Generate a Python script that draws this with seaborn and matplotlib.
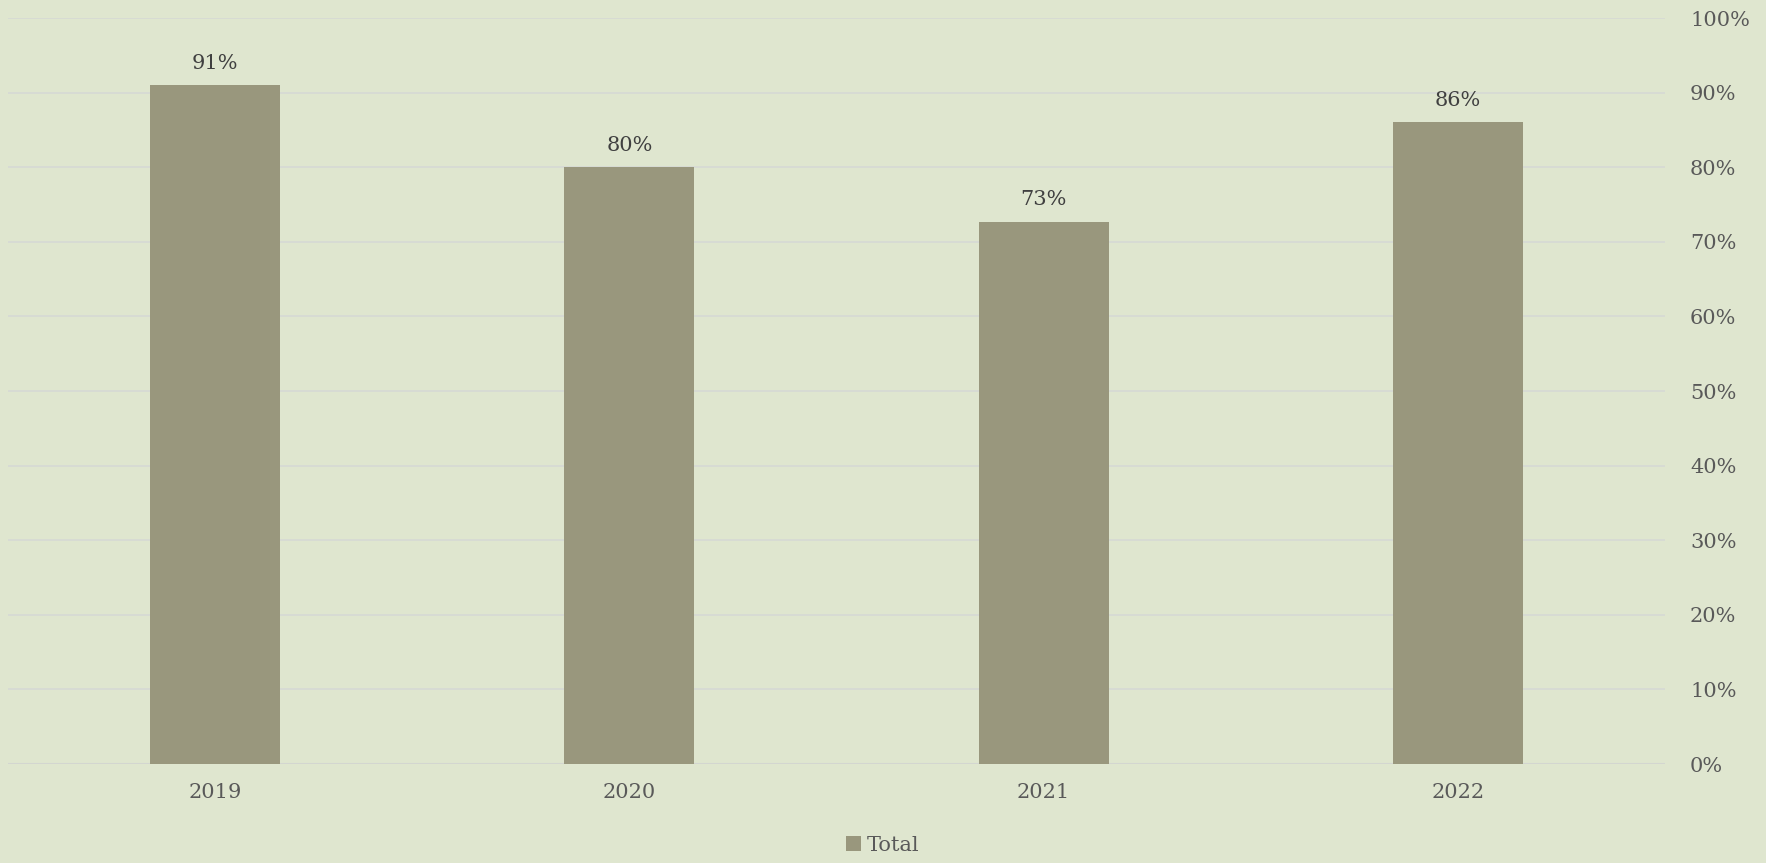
import pandas as pd
import numpy as np
import seaborn as sns
import matplotlib.pyplot as plt
from matplotlib.patches import Patch
from matplotlib.ticker import PercentFormatter

years = ["2019", "2020", "2021", "2022"]
totals = [0.91, 0.80, 0.727, 0.86]
labels = ["91%", "80%", "73%", "86%"]

bg = "#DFE6CF"
bar_color = "#99977D"

df = pd.DataFrame({"year": years, "total": totals})

sns.set_theme(style="white")
plt.rcParams["font.family"] = ["DejaVu Serif"]

fig = plt.figure(figsize=(17.66, 8.63), dpi=100, facecolor=bg)
ax = fig.add_axes([8 / 1766, 1 - 764 / 863, 1657 / 1766, 746 / 863])
ax.set_facecolor(bg)

sns.barplot(data=df, x="year", y="total", color=bar_color, width=0.314,
            saturation=1, ax=ax, zorder=3, edgecolor="none", linewidth=0)

ax.set_ylim(0, 1)
ax.set_xlim(-0.5, 3.5)
ax.set_yticks(np.arange(0, 1.01, 0.1))
ax.yaxis.set_major_formatter(PercentFormatter(1.0, decimals=0))
ax.yaxis.tick_right()
ax.grid(axis="y", color="#D6D9D4", linewidth=1.2, zorder=0)
ax.axhline(0, color="#D3D6D0", linewidth=1.5, zorder=2)
ax.tick_params(axis="both", length=0, labelsize=15, labelcolor="#595959")
ax.tick_params(axis="y", pad=18)
ax.tick_params(axis="x", pad=14)
for s in ax.spines.values():
    s.set_visible(False)
ax.set_xlabel("")
ax.set_ylabel("")

for i, (v, lab) in enumerate(zip(totals, labels)):
    ax.annotate(lab, (i, v), xytext=(0, 9), textcoords="offset points",
                ha="center", va="bottom", fontsize=15, color="#404040")

handle = Patch(facecolor=bar_color, edgecolor="none")
fig.legend([handle], ["Total"], loc="center", bbox_to_anchor=(0.5, 1 - 845 / 863),
           frameon=False, fontsize=15, handlelength=0.7, handleheight=0.7,
           handletextpad=0.3, labelcolor="#595959")

fig.savefig("out.png", dpi=100, facecolor=bg)
